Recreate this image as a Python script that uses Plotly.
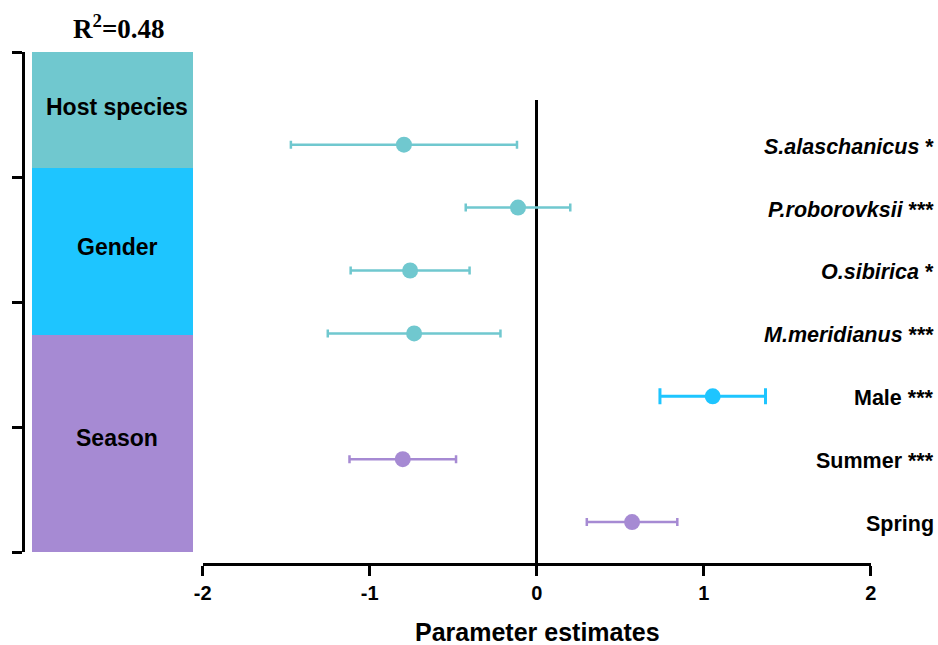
import plotly.graph_objects as go

# ---- data ----
labels = ["S.alaschanicus", "P.roborovksii", "O.sibirica", "M.meridianus", "Male", "Summer", "Spring"]
signif = ["*", "***", "*", "***", "***", "***", ""]
italic = [True, True, True, True, False, False, False]
estimates = [-0.795, -0.112, -0.758, -0.734, 1.054, -0.802, 0.571]
errors = [0.677, 0.313, 0.356, 0.517, 0.316, 0.319, 0.271]
groups = ["Host species", "Host species", "Host species", "Host species", "Gender", "Season", "Season"]

group_names = ["Host species", "Gender", "Season"]
group_spans = [0.928, 1.336, 1.736]
group_colors = ["#70C8CF", "#1EC5FF", "#A68AD3"]
bracket_ticks = [0, 1, 2, 3, 4]
x_ticks = [-2, -1, 0, 1, 2]
r2_text = "R<sup>2</sup>=0.48"

FONT = "Arial, Liberation Sans, Helvetica, sans-serif"
W, H = 938, 645

fig = go.Figure()

# ---- forest points per group ----
cap_w = {"Host species": 4, "Gender": 8, "Season": 4}
thick = {"Host species": 2.5, "Gender": 3, "Season": 2.5}
for g, col in zip(group_names, group_colors):
    idx = [i for i, gg in enumerate(groups) if gg == g]
    fig.add_trace(go.Scatter(
        x=[estimates[i] for i in idx],
        y=[i for i in idx],
        mode="markers",
        marker=dict(color=col, size=16, line=dict(width=0)),
        error_x=dict(type="data", array=[errors[i] for i in idx], symmetric=True,
                     color=col, thickness=thick[g], width=cap_w[g]),
        xaxis="x", yaxis="y", showlegend=False, cliponaxis=False,
    ))

# ---- group blocks on the left ----
for g, span, col in zip(group_names, group_spans, group_colors):
    fig.add_trace(go.Bar(
        x=[0], y=[span], width=[1], marker=dict(color=col, line=dict(width=0)),
        xaxis="x2", yaxis="y2", showlegend=False, hoverinfo="skip",
    ))

# block label annotations (positions on the bracket axis)
label_pos = [0.44, 1.56, 3.09]
annotations = []
for g, yc in zip(group_names, label_pos):
    annotations.append(dict(
        x=0.03, y=yc, xref="x2", yref="y2", text="<b>%s</b>" % g, showarrow=False,
        font=dict(family=FONT, size=23, color="black"), xanchor="center", yanchor="middle"))

# right-hand labels
for i, (lab, s, it) in enumerate(zip(labels, signif, italic)):
    core = "<i>%s</i>" % lab if it else lab
    txt = "<b>%s%s</b>" % (core, (" " + s) if s else "")
    annotations.append(dict(
        x=936 / W, y=i, xref="paper", yref="y", text=txt, showarrow=False, yshift=-2,
        font=dict(family=FONT, size=21.5, color="black"), xanchor="right", yanchor="middle"))

# x-axis title
annotations.append(dict(
    x=537 / W, y=1 - 632 / H, xref="paper", yref="paper", text="<b>Parameter estimates</b>",
    showarrow=False, font=dict(family=FONT, size=25, color="black"),
    xanchor="center", yanchor="middle"))

# R^2 title
annotations.append(dict(
    x=119 / W, y=1 - 27 / H, xref="paper", yref="paper", text="<b>%s</b>" % r2_text,
    showarrow=False, font=dict(family="Times New Roman, Liberation Serif, serif", size=27, color="black"),
    xanchor="center", yanchor="middle"))

fig.update_layout(
    width=W, height=H,
    margin=dict(l=0, r=0, t=0, b=0, autoexpand=False),
    paper_bgcolor="white", plot_bgcolor="rgba(0,0,0,0)",
    barmode="stack", bargap=0,
    annotations=annotations,
    xaxis=dict(
        domain=[202.7 / W, 870.7 / W], range=[-2, 2], anchor="y", automargin=False,
        tickvals=x_ticks, ticktext=[str(v) for v in x_ticks],
        ticks="outside", ticklen=10, tickwidth=3, tickcolor="black",
        showline=True, linewidth=3, linecolor="black",
        zeroline=True, zerolinewidth=3, zerolinecolor="black",
        showgrid=False,
        tickfont=dict(family=FONT, size=20, color="black", weight="bold"),
    ),
    yaxis=dict(
        domain=[1 - 563 / H, 1 - 100 / H], range=[6.65, -0.71], anchor="x", automargin=False,
        showticklabels=False, showline=False, zeroline=False, showgrid=False, ticks="",
    ),
    xaxis2=dict(
        domain=[32 / W, 193 / W], range=[-0.5, 0.5], anchor="y2", automargin=False,
        visible=False,
    ),
    yaxis2=dict(
        domain=[1 - 552 / H, 1 - 52 / H], range=[4, 0], anchor="free", position=23 / W,
        automargin=False,
        side="left", tickvals=bracket_ticks, ticks="outside", ticklen=10, tickwidth=3,
        tickcolor="black", showline=True, linewidth=3, linecolor="black",
        showticklabels=False, showgrid=False, zeroline=False,
    ),
)

fig.write_html("out.html")
